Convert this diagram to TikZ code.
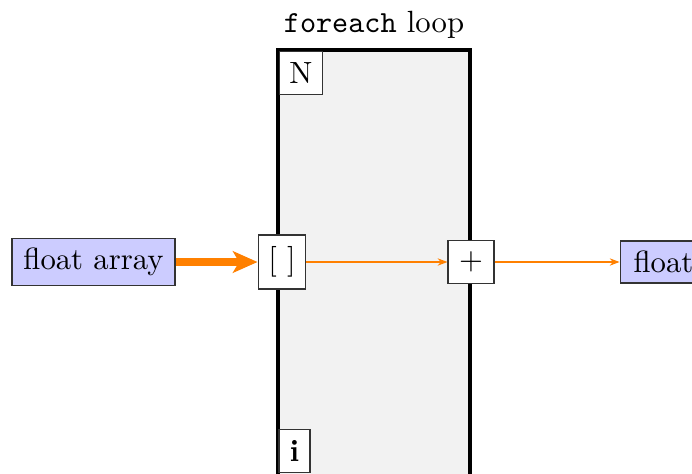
\documentclass[tikz,border=0pt]{standalone}
\usetikzlibrary{arrows.meta}
\begin{document}
\begin{tikzpicture}[x=0.3257pt,y=-0.3257pt,
  box/.style={draw=black!80,line width=0.35pt,fill=white,inner sep=0pt},
  typ/.style={draw=black!80,line width=0.35pt,fill=blue!20,inner sep=0pt},
  thinarr/.style={draw=orange,line width=0.35pt,-{Stealth[length=3.2pt,width=2.4pt]}},
  thickarr/.style={draw=orange,line width=2.3pt,-{Stealth[length=8pt,width=7pt,inset=2pt]}}]
\useasboundingbox (0,0) rectangle (692,473);
\draw[fill=black!5,line width=1pt] (278,50) rectangle (470,480);
\node (title) at (374,25) {\texttt{foreach} loop};
\node[box,minimum width=14.3pt,minimum height=14.3pt] (N) at (301,73) {N};
\node[box,minimum width=10.1pt,minimum height=14.3pt] (i) at (294.5,451) {\textbf{i}};
\node[typ,minimum width=53.1pt,minimum height=15.6pt] (fa) at (93.5,262) {float array};
\node[box,minimum width=15.6pt,minimum height=17.6pt] (idx) at (282,262) {[~]};
\node[box,minimum width=15pt,minimum height=14pt] (plus) at (471,262) {$+$};
\node[typ,minimum width=28.3pt,minimum height=13.7pt] (fl) at (663.5,262) {float};
\draw[thickarr] (fa) -- (idx);
\draw[thinarr] (idx) -- (plus);
\draw[thinarr] (plus) -- (fl);
\end{tikzpicture}
\end{document}
